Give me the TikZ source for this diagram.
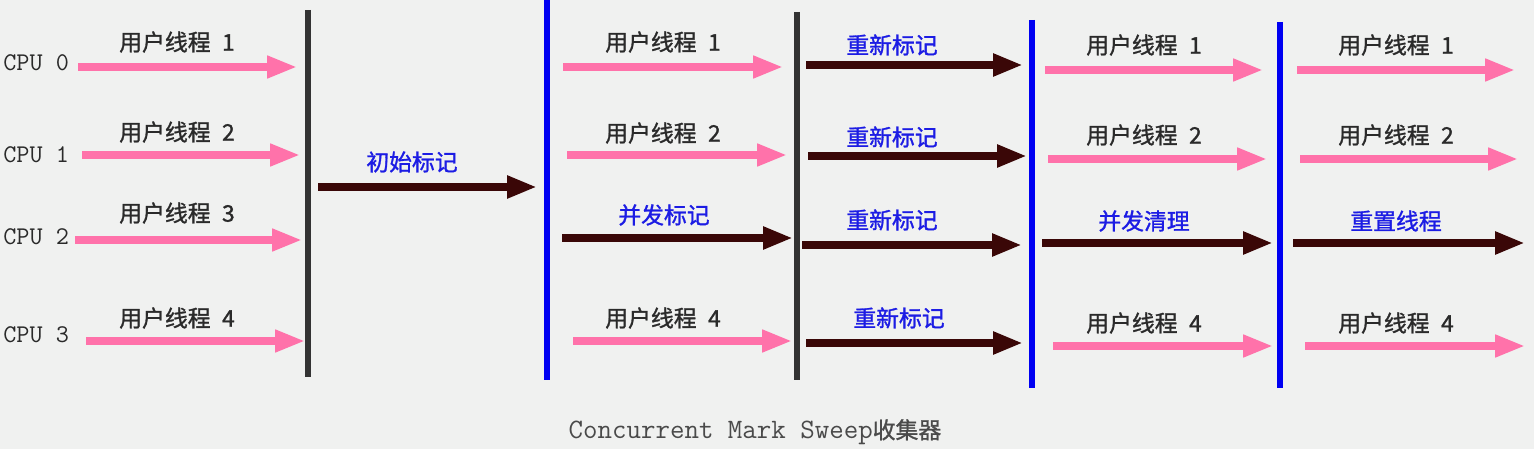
\documentclass[tikz,border=0pt]{standalone}
\usepackage{fontspec}
\setmainfont{Noto Sans CJK SC}[FakeBold=1.2]
\usetikzlibrary{arrows.meta}
\definecolor{pagegray}{HTML}{F0F1F0}
\definecolor{threadpink}{HTML}{FF72AA}
\definecolor{gcbrown}{HTML}{3A0707}
\definecolor{pausegray}{HTML}{333333}
\definecolor{phaseblue}{HTML}{0000F2}
\definecolor{labelblue}{HTML}{1C1CE4}
\definecolor{labelgray}{HTML}{2A2A2A}

\begin{document}
\begin{tikzpicture}[
  x=0.02cm,
  y=-0.02cm,
  font=\fontsize{13}{15}\selectfont,
  userarrow/.style={-{Triangle[length=17pt, width=12pt]}, line width=4pt, draw=threadpink},
  gcarrow/.style={-{Triangle[length=17pt, width=12pt]}, line width=4.3pt, draw=gcbrown},
  userlabel/.style={text=labelgray, inner sep=0pt},
  gclabel/.style={text=labelblue, inner sep=0pt},
  cpulabel/.style={font=\ttfamily\fontsize{14.5}{16}\selectfont, text=labelgray, anchor=west, inner sep=0pt},
  pauseline/.style={draw=pausegray, line width=3.2pt},
  phaseline/.style={draw=phaseblue, line width=3.2pt}
]

\fill[pagegray] (0,0) rectangle (1534,449);
\useasboundingbox (0,0) rectangle (1534,449);

\foreach \i/\y in {0/63,1/155,2/237,3/335} {
  \node[cpulabel] (cpu\i) at (3,\y) {CPU \i};
}

\draw[pauseline] (308,10) -- (308,377);
\draw[phaseline] (547,0) -- (547,380);
\draw[pauseline] (797,12) -- (797,380);
\draw[phaseline] (1032,20) -- (1032,388);
\draw[phaseline] (1280,22) -- (1280,388);

\foreach \n/\xa/\xb/\y/\lx/\ly/\k in {
    a0/78/297/67/177/42/1, a1/82/300/155/177/132/2, a2/75/302/240/177/213/3, a3/86/305/341/177/318/4,
    c0/563/783/67/663/42/1, c1/567/787/155/663/133/2, c3/573/792/341/663/318/4,
    e0/1045/1263/70/1144/45/1, e1/1048/1267/159/1144/135/2, e3/1053/1273/346/1144/323/4,
    f0/1297/1515/70/1396/45/1, f1/1300/1518/159/1396/135/2, f3/1305/1525/346/1396/323/4} {
  \coordinate (\n-s) at (\xa,\y);
  \coordinate (\n-e) at (\xb,\y);
  \draw[userarrow] (\n-s) -- (\n-e);
  \node[userlabel] (\n-label) at (\lx,\ly) {用户线程\enspace\k};
}

\foreach \n/\xa/\xb/\y/\lx/\ly/\txt in {
    init/318/537/187/412/162/初始标记,
    cmark/562/793/238/664/215/并发标记,
    d0/806/1023/65/892/45/重新标记, d1/808/1027/156/892/137/重新标记,
    d2/802/1022/245/892/220/重新标记, d3/806/1023/343/899/318/重新标记,
    sweep/1042/1273/243/1144/221/并发清理,
    reset/1293/1525/243/1396/221/重置线程} {
  \coordinate (\n-s) at (\xa,\y);
  \coordinate (\n-e) at (\xb,\y);
  \draw[gcarrow] (\n-s) -- (\n-e);
  \node[gclabel] (\n-label) at (\lx,\ly) {\txt};
}

\node[text=labelgray!85, inner sep=0pt] (caption) at (755,432) {{\ttfamily\fontsize{16}{18}\selectfont Concurrent Mark Sweep}收集器};

\end{tikzpicture}
\end{document}
